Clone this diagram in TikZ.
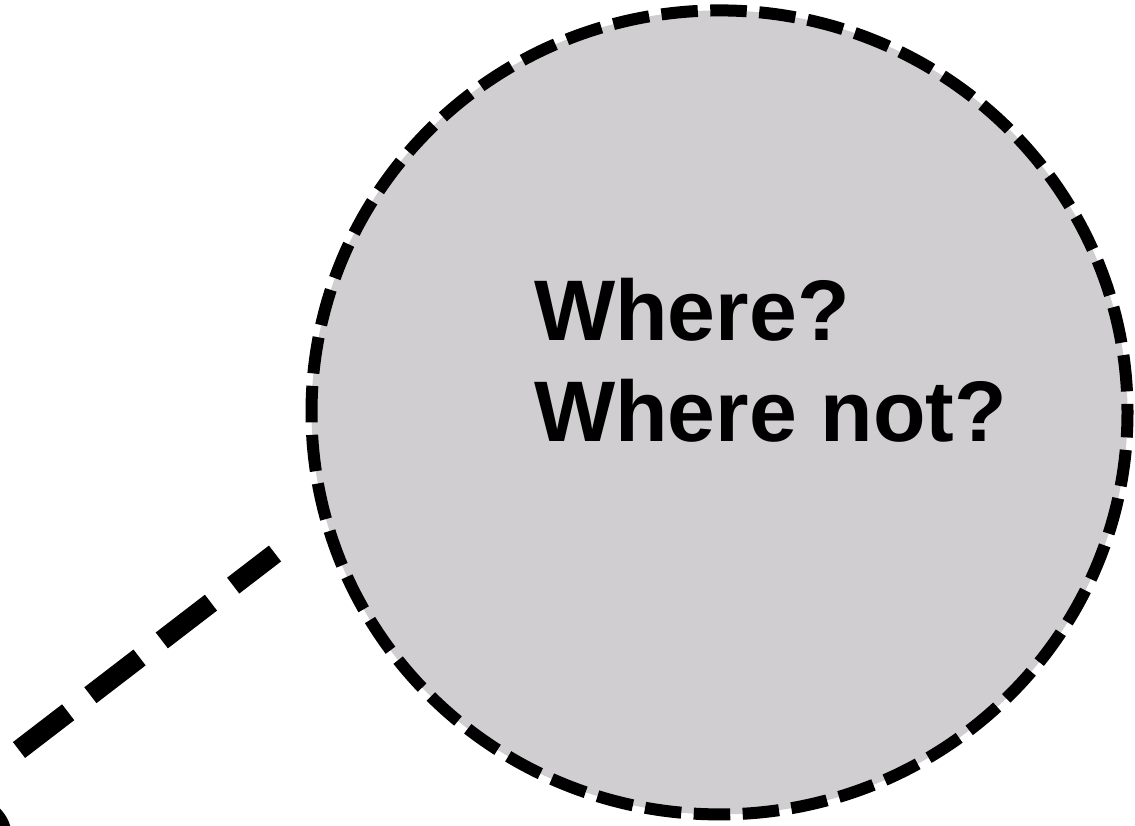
\documentclass[tikz,border=0pt]{standalone}
\usepackage{fontspec}
\setmainfont{Liberation Sans}
\usepackage{xcolor}
\usepackage{tikz}
\usetikzlibrary{shapes.geometric}
\definecolor{bubblefill}{HTML}{D0CED0}

\begin{document}
\begin{tikzpicture}[
  x=1pt, y=-1pt,
  bubble/.style={draw=black, ellipse, fill=bubblefill, line width=12pt, dash pattern=on 36.5pt off 12.5pt, dash phase=28pt, minimum width=816pt, minimum height=804pt, inner sep=0pt},
  caption/.style={anchor=north west, align=left, inner sep=0pt, font={\fontsize{86}{101}\selectfont\bfseries}},
  tail/.style={draw=black, line width=20pt, dash pattern=on 62pt off 28pt}
]
\useasboundingbox (0,0) rectangle (1135,825);
\node[bubble] (where) at (719.5,412.4) {};
\node[caption] (question) at (534,278) {Where?\\Where not?};
\coordinate (tailstart) at (19,750);
\coordinate (tailend) at (275,553.5);
\draw[tail] (tailstart) -- (tailend);
\node[circle, fill=black, minimum size=84pt, inner sep=0pt] (dot) at (-30,838) {};
\end{tikzpicture}
\end{document}
